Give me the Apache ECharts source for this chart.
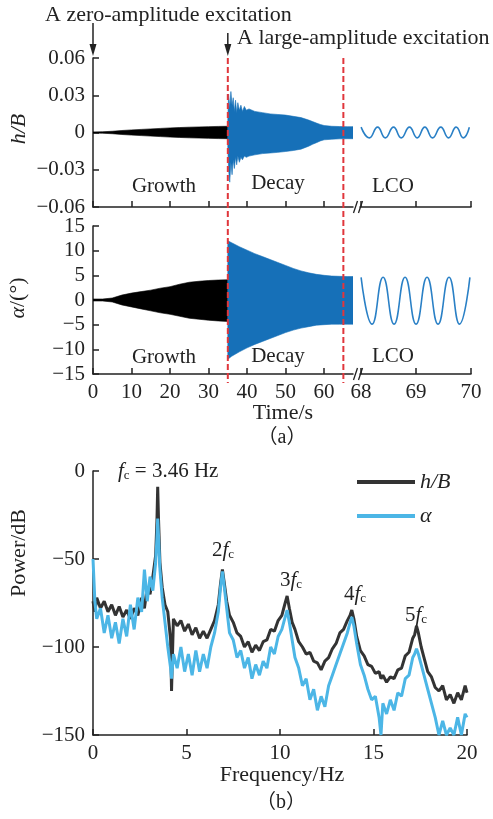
<!DOCTYPE html>
<html>
<head>
<meta charset="utf-8">
<script src="https://cdn.jsdelivr.net/npm/echarts@6/dist/echarts.min.js"></script>
<style>
  html, body { margin: 0; padding: 0; background: #fff; }
  #chart { width: 493px; height: 819px; }
</style>
</head>
<body>
<div id="chart"></div>
<script>
// time history, growth part (zero-amplitude excitation)
const growthT = [0, 2.5, 5, 7.5, 10, 12.5, 15, 17.5, 20, 22.5, 25, 27.5, 30, 32.5, 35]
const hGrowUp = [0.0005, 0.0006, 0.0010, 0.0016, 0.0021, 0.0025, 0.0029, 0.0033, 0.0037, 0.0040, 0.0043, 0.0045, 0.0047, 0.0049, 0.0050]
const hGrowLow = [-0.0005, -0.0006, -0.0010, -0.0016, -0.0021, -0.0025, -0.0029, -0.0033, -0.0037, -0.0040, -0.0043, -0.0045, -0.0047, -0.0049, -0.0050]
const aGrowUp = [0.2, 0.2, 0.4, 1.0, 1.4, 1.7, 2.0, 2.4, 2.7, 3.2, 3.6, 3.8, 3.95, 4.05, 4.1]
const aGrowLow = [-0.2, -0.2, -0.4, -1.0, -1.4, -1.8, -2.2, -2.6, -2.9, -3.3, -3.7, -3.9, -4.1, -4.25, -4.35]

// decay part (large-amplitude excitation)
const hDecT = [35, 35.2, 35.5, 35.8, 36.1, 36.4, 36.7, 37.0, 37.3, 37.6, 38.0, 38.4, 38.8, 39.3, 39.8, 40.5, 42, 44, 46, 48, 50, 52, 54, 56, 57, 58, 59, 60, 62, 64, 66, 67.5]
const hDecUp = [0.010, 0.031, 0.020, 0.033, 0.022, 0.028, 0.017, 0.026, 0.016, 0.024, 0.018, 0.022, 0.017, 0.021, 0.018, 0.019, 0.017, 0.016, 0.015, 0.0145, 0.014, 0.013, 0.012, 0.010, 0.0088, 0.0076, 0.0065, 0.0056, 0.0050, 0.0048, 0.0047, 0.0047]
const hDecLow = [-0.012, -0.030, -0.040, -0.024, -0.034, -0.022, -0.029, -0.020, -0.026, -0.019, -0.024, -0.020, -0.022, -0.019, -0.020, -0.019, -0.018, -0.017, -0.0165, -0.016, -0.0153, -0.0145, -0.0134, -0.011, -0.0095, -0.0082, -0.0068, -0.0059, -0.0054, -0.0051, -0.005, -0.005]
const aDecT = [35, 36, 38, 40, 42, 44, 46, 48, 50, 52, 54, 56, 58, 60, 62, 64, 66, 67.5]
const aDecUp = [12.0, 11.6, 10.8, 10.1, 9.4, 8.8, 8.2, 7.6, 7.0, 6.4, 5.9, 5.5, 5.2, 5.0, 4.85, 4.8, 4.75, 4.75]
const aDecLow = [-12.0, -11.4, -10.5, -9.7, -9.0, -8.4, -7.8, -7.2, -6.6, -6.1, -5.7, -5.4, -5.1, -5.0, -4.9, -4.9, -4.9, -4.9]

// LCO, peaks and troughs
const hLcoT = [68.0, 68.15, 68.30, 68.44, 68.59, 68.73, 68.88, 69.02, 69.16, 69.30, 69.45, 69.59, 69.73, 69.86, 69.97]
const hLco = [0.0043, -0.0043, 0.0043, -0.0043, 0.0043, -0.0043, 0.0043, -0.0043, 0.0043, -0.0043, 0.0043, -0.0043, 0.0043, -0.0043, 0.0042]
const aLcoT = [68.0, 68.2, 68.4, 68.6, 68.8, 69.0, 69.2, 69.4, 69.6, 69.79, 69.98]
const aLco = [4.6, -4.9, 4.6, -4.9, 4.6, -4.9, 4.6, -4.9, 4.6, -4.9, 4.6]

// spectrum
const freqs = [0, 0.1, 0.2, 0.4, 0.6, 0.8, 1.0, 1.2, 1.4, 1.6,
  1.8, 2.0, 2.2, 2.4, 2.6, 2.75, 2.9, 3.05, 3.2, 3.35,
  3.42, 3.46, 3.5, 3.58, 3.7, 3.85, 4.0, 4.15, 4.2, 4.3,
  4.5, 4.7, 4.9, 5.1, 5.3, 5.5, 5.7, 5.9, 6.1, 6.3,
  6.5, 6.7, 6.82, 6.92, 7.0, 7.15, 7.3, 7.5, 7.7, 7.9,
  8.1, 8.3, 8.5, 8.7, 8.9, 9.1, 9.3, 9.5, 9.7, 9.9,
  10.1, 10.25, 10.38, 10.5, 10.65, 10.8, 11.0, 11.2, 11.4, 11.6,
  11.8, 12.0, 12.2, 12.4, 12.6, 12.8, 13.0, 13.2, 13.4, 13.6,
  13.75, 13.84, 13.95, 14.1, 14.3, 14.5, 14.7, 14.9, 15.1, 15.3,
  15.4, 15.5, 15.7, 15.9, 16.1, 16.3, 16.5, 16.7, 16.9, 17.1,
  17.2, 17.3, 17.4, 17.55, 17.7, 17.9, 18.1, 18.3, 18.5, 18.7,
  18.9, 19.1, 19.3, 19.5, 19.7, 19.9, 20]
const hPow = [-74, -80, -72, -78, -74, -80, -76, -82, -77, -83,
  -79, -84, -78, -82, -72, -78, -66, -70, -60, -48,
  -28, -9, -26, -52, -66, -76, -80, -96, -125, -84,
  -88, -85, -91, -87, -93, -89, -95, -91, -95, -90,
  -85, -76, -64, -56, -62, -74, -82, -86, -92, -94,
  -100, -97, -103, -99, -102, -97, -96, -90, -91, -85,
  -82, -76, -71, -78, -86, -90, -97, -100, -104, -103,
  -108, -109, -113, -108, -106, -101, -98, -92, -90, -85,
  -82, -79, -84, -94, -102, -105, -110, -111, -115, -114,
  -118, -116, -120, -117, -118, -113, -112, -105, -103, -95,
  -93, -88, -92, -100, -106, -114, -117, -123, -125, -122,
  -130, -127, -132, -126, -130, -122, -126]
const aPow = [-50, -74, -84, -78, -92, -82, -95, -86, -98, -84,
  -94, -76, -90, -72, -80, -56, -74, -60, -68, -52,
  -38, -27, -36, -56, -72, -86, -100, -112, -118, -104,
  -112, -100, -114, -104, -116, -102, -114, -104, -112, -100,
  -92, -80, -66, -57, -64, -78, -92, -96, -106, -102,
  -112, -106, -118, -110, -116, -108, -112, -100, -104, -94,
  -90, -84, -79, -86, -96, -106, -112, -122, -118, -130,
  -124, -136, -128, -134, -122, -116, -110, -104, -98, -92,
  -86, -83, -88, -98, -110, -116, -124, -130, -128, -140,
  -150, -132, -138, -130, -136, -126, -128, -118, -116, -106,
  -104, -101, -104, -110, -116, -124, -132, -140, -150, -142,
  -150, -146, -150, -140, -150, -138, -140]

const leftTicks = [0, 10, 20, 30, 40, 50, 60]
const rightTicks = [68, 69, 70]

const FONT = 'Liberation Serif'
const INK = '#222'
const BLUE = '#1670b8'
const minus = v => (v < 0 ? '\u2212' : '') + Math.abs(v)

const chart = echarts.init(document.getElementById('chart'))

const axisLine = { show: true, onZero: false, lineStyle: { color: INK, width: 1.5 } }
const axisTick = { inside: true, length: 6, lineStyle: { color: INK, width: 1.5 } }
const label = { color: INK, fontFamily: FONT, fontSize: 21 }

// envelope band drawn as one polygon through the axis scales
const band = (xi, ts, up, low, color) => ({
  type: 'custom', xAxisIndex: xi, yAxisIndex: xi, silent: true, clip: true,
  data: [[ts[0], up[0]]],
  renderItem: (params, api) => {
    const top = ts.map((t, i) => api.coord([t, up[i]]))
    const bottom = ts.map((t, i) => api.coord([t, low[i]])).reverse()
    return {
      type: 'polygon',
      shape: { points: top.concat(bottom) },
      style: { fill: color, stroke: color, lineWidth: 0.6 },
    }
  },
})

const timeAxis = (grid, min, max, ticks, showLabel) => ({
  type: 'value', gridIndex: grid, min, max,
  axisLine, splitLine: { show: false },
  axisTick: { ...axisTick, customValues: ticks },
  axisLabel: { ...label, show: showLabel, margin: 8, customValues: ticks },
})

const option = {
  animation: false,
  backgroundColor: '#fff',
  textStyle: { fontFamily: FONT },
  grid: [
    { left: 93, top: 58, width: 260, height: 149, outerBoundsMode: 'none' },
    { left: 360, top: 58, width: 111, height: 149, outerBoundsMode: 'none' },
    { left: 93, top: 226, width: 260, height: 148, outerBoundsMode: 'none' },
    { left: 360, top: 226, width: 111, height: 148, outerBoundsMode: 'none' },
    { left: 93, top: 471, width: 374, height: 264, outerBoundsMode: 'none' },
  ],
  xAxis: [
    timeAxis(0, 0, 67.5, leftTicks, false),
    timeAxis(1, 67.98, 70, rightTicks, false),
    timeAxis(2, 0, 67.5, leftTicks, true),
    timeAxis(3, 67.98, 70, rightTicks, true),
    {
      type: 'value', gridIndex: 4, min: 0, max: 20, interval: 5,
      axisLine, axisTick, splitLine: { show: false },
      axisLabel: { ...label, margin: 8 },
    },
  ],
  yAxis: [
    {
      type: 'value', gridIndex: 0, min: -0.06, max: 0.06, interval: 0.03,
      axisLine, axisTick, splitLine: { show: false },
      axisLabel: { ...label, margin: 8, formatter: v => v === 0 ? '0' : (v < 0 ? '\u2212' : '') + Math.abs(v).toFixed(2) },
    },
    { type: 'value', gridIndex: 1, min: -0.06, max: 0.06, show: false },
    {
      type: 'value', gridIndex: 2, min: -15, max: 15, interval: 5,
      axisLine, axisTick, splitLine: { show: false },
      axisLabel: { ...label, margin: 8, formatter: minus },
    },
    { type: 'value', gridIndex: 3, min: -15, max: 15, show: false },
    {
      type: 'value', gridIndex: 4, min: -150, max: 0, interval: 50,
      axisLine, axisTick, splitLine: { show: false },
      axisLabel: { ...label, margin: 8, formatter: minus },
    },
  ],
  legend: {
    data: ['h/B', 'α'],
    orient: 'vertical',
    left: 352, top: 466,
    icon: 'rect', itemWidth: 58, itemHeight: 4, itemGap: 12,
    textStyle: { fontFamily: FONT, fontStyle: 'italic', fontSize: 22, color: INK },
  },
  series: [
    band(0, growthT, hGrowUp, hGrowLow, '#000'),
    band(0, hDecT, hDecUp, hDecLow, BLUE),
    {
      type: 'line', xAxisIndex: 1, yAxisIndex: 1, symbol: 'none', smooth: 0.5,
      lineStyle: { color: '#2a80c6', width: 1.6 },
      data: hLcoT.map((t, i) => [t, hLco[i]]),
    },
    band(2, growthT, aGrowUp, aGrowLow, '#000'),
    band(2, aDecT, aDecUp, aDecLow, BLUE),
    {
      type: 'line', xAxisIndex: 3, yAxisIndex: 3, symbol: 'none', smooth: 0.5,
      lineStyle: { color: '#2a80c6', width: 1.6 },
      data: aLcoT.map((t, i) => [t, aLco[i]]),
    },
    {
      name: 'h/B', type: 'line', xAxisIndex: 4, yAxisIndex: 4, symbol: 'none',
      color: '#333', lineStyle: { color: '#333', width: 3 },
      data: freqs.map((f, i) => [f, hPow[i]]),
    },
    {
      name: 'α', type: 'line', xAxisIndex: 4, yAxisIndex: 4, symbol: 'none',
      color: '#4cb6e6', lineStyle: { color: '#4cb6e6', width: 3 },
      data: freqs.map((f, i) => [f, aPow[i]]),
    },
  ],
}

chart.setOption(option)

// annotations placed from the axes
const px = (g, v) => chart.convertToPixel({ gridIndex: g }, v)
const [x0, yTop] = px(0, [0, 0.06])
const [x35] = px(0, [35, 0])
const [x65] = px(0, [65, 0])
const [xEnd, yAxH] = px(0, [67.5, -0.06])
const [, yAxA] = px(2, [0, -15])

const txt = (x, y, text, extra) => ({
  type: 'text', x, y, silent: true,
  style: { text, fill: INK, fontFamily: FONT, fontSize: 21, align: 'center', verticalAlign: 'middle', ...extra },
})
const sub = {
  n: { fontFamily: FONT, fontSize: 21, fill: INK },
  i: { fontFamily: FONT, fontSize: 21, fontStyle: 'italic', fill: INK },
  s: { fontFamily: FONT, fontSize: 13, fill: INK, verticalAlign: 'bottom', padding: [10, 0, 0, 0] },
}
const harm = (x, y, text) => txt(x, y, text, { align: 'left', rich: sub })
const arrow = (x, y1, y2) => [
  { type: 'line', silent: true, shape: { x1: x, y1, x2: x, y2: y2 - 10 }, style: { stroke: INK, lineWidth: 1.5 } },
  { type: 'polygon', silent: true, shape: { points: [[x - 3.5, y2 - 12], [x + 3.5, y2 - 12], [x, y2]] }, style: { fill: INK } },
]
const redLine = x => ({
  type: 'line', silent: true, z: 10,
  shape: { x1: x, y1: yTop, x2: x, y2: yAxA + 9 },
  style: { stroke: '#e0363c', lineWidth: 2, lineDash: [6, 3] },
})
const brk = y => [0, 5].map(d => ({
  type: 'line', silent: true,
  shape: { x1: xEnd + 0.5 + d, y1: y + 6, x2: xEnd + 4.5 + d, y2: y - 6 },
  style: { stroke: INK, lineWidth: 1.3 },
}))

chart.setOption({
  graphic: [
    txt(45, 15, 'A zero-amplitude excitation', { align: 'left', fontSize: 22 }),
    txt(237, 38, 'A large-amplitude excitation', { align: 'left', fontSize: 22 }),
    ...arrow(x0, 23, 56),
    ...arrow(x35, 33, 56),
    redLine(x35),
    redLine(x65),
    ...brk(yAxH),
    ...brk(yAxA),
    txt(164, 186, 'Growth'),
    txt(278, 183, 'Decay'),
    txt(393, 186, 'LCO'),
    txt(164, 357, 'Growth'),
    txt(278, 356, 'Decay'),
    txt(393, 356, 'LCO'),
    { ...txt(19, 129, 'h/B', { fontStyle: 'italic', fontSize: 22 }), rotation: Math.PI / 2 },
    {
      ...txt(18, 298, '{i|α}{n|/(°)}', { rich: { i: { fontFamily: FONT, fontSize: 22, fontStyle: 'italic', fill: INK }, n: { fontFamily: FONT, fontSize: 22, fill: INK } } }),
      rotation: Math.PI / 2,
    },
    { ...txt(19, 553, 'Power/dB', { fontSize: 22 }), rotation: Math.PI / 2 },
    txt(283, 413, 'Time/s', { fontSize: 22 }),
    txt(282, 438, '（a）', { fontFamily: FONT + ', Noto Sans CJK SC', fontSize: 20 }),
    txt(282, 775, 'Frequency/Hz', { fontSize: 22 }),
    txt(281, 803, '（b）', { fontFamily: FONT + ', Noto Sans CJK SC', fontSize: 20 }),
    harm(118, 471, '{i|f}{s|c}{n| = 3.46 Hz}'),
    harm(212, 550, '{n|2}{i|f}{s|c}'),
    harm(280, 580, '{n|3}{i|f}{s|c}'),
    harm(344, 594, '{n|4}{i|f}{s|c}'),
    harm(405, 615, '{n|5}{i|f}{s|c}'),
  ],
})

window.addEventListener('resize', () => {
  chart.resize()
})
</script>
</body>
</html>
